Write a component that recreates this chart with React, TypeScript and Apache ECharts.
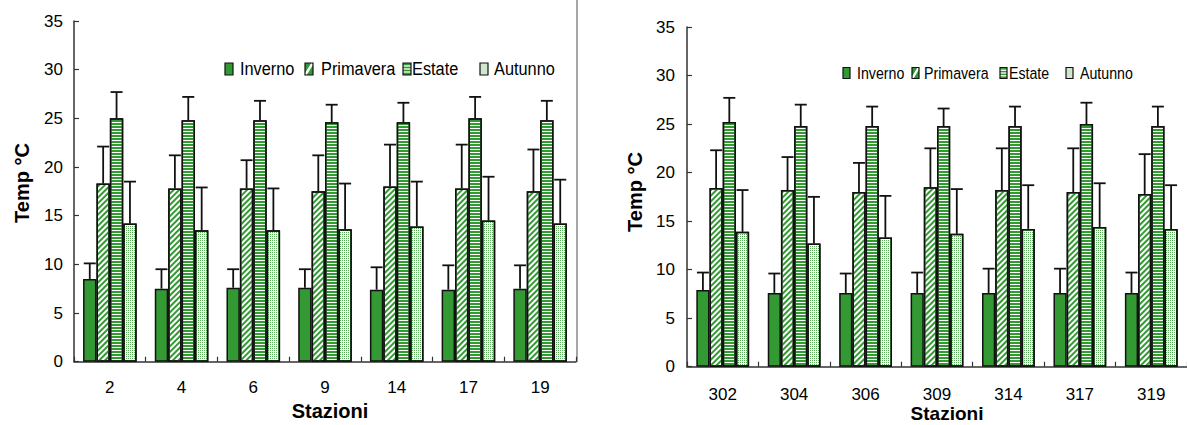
import React, { useEffect, useRef } from "react";
import * as echarts from "echarts";

const seasons = ["Inverno", "Primavera", "Estate", "Autunno"];

const stationsL = ["2", "4", "6", "9", "14", "17", "19"];
const invernoL = [8.5, 7.5, 7.6, 7.6, 7.4, 7.4, 7.5];
const invernoSdL = [1.6, 2.0, 1.9, 1.9, 2.3, 2.5, 2.4];
const primaveraL = [18.3, 17.8, 17.8, 17.5, 18.0, 17.8, 17.5];
const primaveraSdL = [3.8, 3.4, 2.9, 3.7, 4.3, 4.5, 4.3];
const estateL = [25.0, 24.8, 24.8, 24.6, 24.6, 25.0, 24.8];
const estateSdL = [2.7, 2.4, 2.0, 1.8, 2.0, 2.2, 2.0];
const autunnoL = [14.2, 13.5, 13.5, 13.6, 13.9, 14.5, 14.2];
const autunnoSdL = [4.3, 4.4, 4.3, 4.7, 4.6, 4.5, 4.5];

const stationsR = ["302", "304", "306", "309", "314", "317", "319"];
const invernoR = [7.9, 7.6, 7.6, 7.6, 7.6, 7.6, 7.6];
const invernoSdR = [1.8, 2.0, 2.0, 2.1, 2.5, 2.5, 2.1];
const primaveraR = [18.4, 18.2, 18.0, 18.5, 18.2, 18.0, 17.8];
const primaveraSdR = [3.9, 3.4, 3.0, 4.0, 4.3, 4.5, 4.1];
const estateR = [25.2, 24.8, 24.8, 24.8, 24.8, 25.0, 24.8];
const estateSdR = [2.5, 2.2, 2.0, 1.8, 2.0, 2.2, 2.0];
const autunnoR = [13.9, 12.7, 13.3, 13.7, 14.2, 14.4, 14.2];
const autunnoSdR = [4.3, 4.8, 4.3, 4.6, 4.5, 4.5, 4.5];

const yTicks = [0, 5, 10, 15, 20, 25, 30, 35];

const GREEN = "#339933";
const FONT = '"Liberation Sans", Arial, Helvetica, sans-serif';

function seasonStyle(k: number): any {
  const base: any = { borderColor: "#111", borderWidth: 1.5 };
  if (k === 0) return { ...base, color: GREEN };
  if (k === 1)
    return {
      ...base,
      color: "#ffffff",
      decal: {
        symbol: "rect",
        symbolSize: 1,
        color: GREEN,
        dashArrayX: [1, 0],
        dashArrayY: [2, 2],
        rotation: -Math.PI / 4,
      },
    };
  if (k === 2)
    return {
      ...base,
      color: "#ffffff",
      decal: {
        symbol: "rect",
        symbolSize: 1,
        color: GREEN,
        dashArrayX: [1, 0],
        dashArrayY: [2, 1],
        rotation: 0,
      },
    };
  return {
    ...base,
    color: "#ffffff",
    decal: {
      symbol: "rect",
      symbolSize: 1,
      color: "#5aab5a",
      dashArrayX: [1, 1],
      dashArrayY: [1, 1],
      rotation: 0,
    },
  };
}

function legendIcon(k: number, x: number, y: number, w: number, h: number): any[] {
  const els: any[] = [];
  if (k === 0) {
    els.push({ type: "rect", shape: { x, y, width: w, height: h }, style: { fill: GREEN } });
  } else if (k === 1) {
    els.push({ type: "rect", shape: { x, y, width: w, height: h }, style: { fill: GREEN } });
    els.push({
      type: "line",
      shape: { x1: x + 0.5, y1: y + h - 0.5, x2: x + w - 0.5, y2: y + 0.5 },
      style: { stroke: "#ffffff", lineWidth: 2.4 },
    });
  } else if (k === 2) {
    els.push({ type: "rect", shape: { x, y, width: w, height: h }, style: { fill: GREEN } });
    for (let i = 1; i <= 3; i++) {
      const yy = y + (h * i) / 4;
      els.push({
        type: "line",
        shape: { x1: x, y1: yy, x2: x + w, y2: yy },
        style: { stroke: "#ffffff", lineWidth: 1.3 },
      });
    }
  } else {
    els.push({ type: "rect", shape: { x, y, width: w, height: h }, style: { fill: "#cfe6cf" } });
  }
  els.push({
    type: "rect",
    shape: { x, y, width: w, height: h },
    style: { fill: "none", stroke: "#111", lineWidth: 1.2 },
  });
  return els;
}

export default function App() {
  const ref = useRef<HTMLDivElement>(null);

  useEffect(() => {
    if (!ref.current) return;
    const chart = echarts.init(ref.current, undefined, { renderer: "svg" });

    const charts = [
      {
        cats: stationsL,
        means: [invernoL, primaveraL, estateL, autunnoL],
        sds: [invernoSdL, primaveraSdL, estateSdL, autunnoSdL],
        bw: 13.4,
      },
      {
        cats: stationsR,
        means: [invernoR, primaveraR, estateR, autunnoR],
        sds: [invernoSdR, primaveraSdR, estateSdR, autunnoSdR],
        bw: 13.2,
      },
    ];

    const series: any[] = [];
    charts.forEach((c, ci) => {
      for (let k = 0; k < 4; k++) {
        series.push({
          type: "bar",
          name: seasons[k],
          xAxisIndex: ci,
          yAxisIndex: ci,
          data: c.means[k],
          barWidth: c.bw,
          barGap: "0%",
          itemStyle: seasonStyle(k),
          z: 2,
        });
      }
      for (let k = 0; k < 4; k++) {
        const off = (k - 1.5) * c.bw;
        series.push({
          type: "custom",
          name: seasons[k] + " err",
          xAxisIndex: ci,
          yAxisIndex: ci,
          z: 3,
          data: c.means[k].map((m, i) => [i, m, c.sds[k][i]]),
          renderItem: (params: any, api: any) => {
            const i = api.value(0);
            const m = api.value(1);
            const s = api.value(2);
            const p0 = api.coord([i, m]);
            const p1 = api.coord([i, m + s]);
            const x = p0[0] + off;
            const st = { stroke: "#111", lineWidth: 1.8 };
            return {
              type: "group",
              children: [
                { type: "line", shape: { x1: x, y1: p0[1], x2: x, y2: p1[1] }, style: st },
                { type: "line", shape: { x1: x - 6, y1: p1[1], x2: x + 6, y2: p1[1] }, style: st },
              ],
            };
          },
        });
      }
    });

    const axisLine = { show: true, lineStyle: { color: "#333", width: 1.5 } };
    const axisTick = { show: true, inside: true, length: 5, lineStyle: { color: "#333", width: 1.2 } };

    const xAxisBase = (cats: string[], gi: number, margin: number) => ({
      type: "category",
      gridIndex: gi,
      data: cats,
      boundaryGap: true,
      axisLine,
      axisTick: { ...axisTick, alignWithLabel: false },
      axisLabel: { color: "#000", fontSize: 17, fontFamily: FONT, margin, interval: 0 },
      splitLine: { show: false },
    });
    const yAxisBase = (gi: number, margin: number) => ({
      type: "value",
      gridIndex: gi,
      min: yTicks[0],
      max: yTicks[yTicks.length - 1],
      interval: yTicks[1] - yTicks[0],
      axisLine,
      axisTick,
      axisLabel: { color: "#000", fontSize: 17, fontFamily: FONT, margin },
      splitLine: { show: false },
    });

    const graphics: any[] = [];
    graphics.push({
      type: "line",
      shape: { x1: 577, y1: 0, x2: 577, y2: 362 },
      style: { stroke: "#888", lineWidth: 1.5 },
    });
    const legendL = { icons: [225, 305, 403, 480], texts: [240, 321, 412, 494], cy: 69, w: 8, h: 12, fs: 19 };
    const legendR = { icons: [843, 912, 1000, 1066], texts: [857, 924, 1009, 1080], cy: 73, w: 7, h: 11, fs: 16.5 };
    [legendL, legendR].forEach((L) => {
      for (let k = 0; k < 4; k++) {
        legendIcon(k, L.icons[k], L.cy - L.h / 2, L.w, L.h).forEach((e) => graphics.push(e));
        graphics.push({
          type: "text",
          x: L.texts[k],
          y: L.cy,
          scaleX: 0.86,
          style: {
            text: seasons[k],
            font: `${L.fs}px ${FONT}`,
            fill: "#000",
            textAlign: "left",
            textVerticalAlign: "middle",
          },
        });
      }
    });
    const titles = [
      { t: "Stazioni", x: 330, y: 411, r: 0, fs: 20 },
      { t: "Stazioni", x: 947, y: 413, r: 0, fs: 19 },
      { t: "Temp °C", x: 22, y: 183, r: Math.PI / 2, fs: 20 },
      { t: "Temp °C", x: 635, y: 192, r: Math.PI / 2, fs: 20 },
    ];
    titles.forEach((t) =>
      graphics.push({
        type: "text",
        x: t.x,
        y: t.y,
        rotation: t.r,
        style: {
          text: t.t,
          font: `bold ${t.fs}px ${FONT}`,
          fill: "#000",
          textAlign: "center",
          textVerticalAlign: "middle",
        },
      })
    );

    chart.setOption({
      animation: false,
      backgroundColor: "#ffffff",
      grid: [
        { left: 74, top: 21, width: 502, height: 340.7 },
        { left: 687, top: 27, width: 508, height: 339.7 },
      ],
      xAxis: [xAxisBase(stationsL, 0, 17), xAxisBase(stationsR, 1, 19)],
      yAxis: [yAxisBase(0, 11), yAxisBase(1, 12)],
      series,
      graphic: graphics,
    });

    return () => chart.dispose();
  }, []);

  return (
    <div
      ref={ref}
      style={{ position: "absolute", left: 0, top: 0, width: 1187, height: 425 }}
    />
  );
}
